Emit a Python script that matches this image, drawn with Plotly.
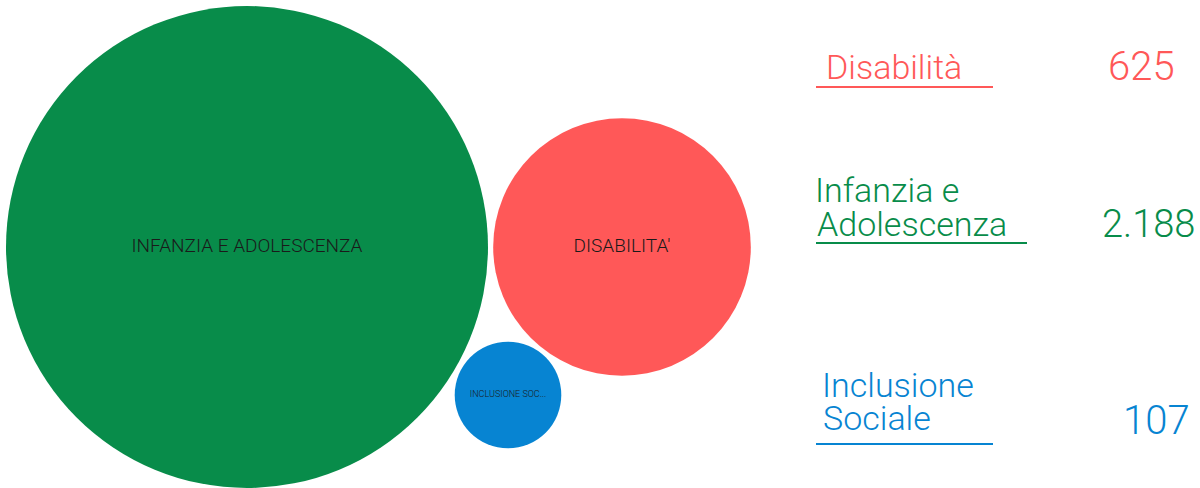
import plotly.graph_objects as go

# ---- data ----
categories = ["Infanzia e Adolescenza", "Disabilità", "Inclusione Sociale"]
values = [2188, 625, 107]
bubble_labels = ["INFANZIA E ADOLESCENZA", "DISABILITA'", "INCLUSIONE SOC..."]
side_label_lines = [["Infanzia e", "Adolescenza"], ["Disabilità"], ["Inclusione", "Sociale"]]
value_labels = ["2.188", "625", "107"]

# ---- layout / style (not data) ----
colors = ["#088C4A", "#FF5858", "#0784D2"]
centers_x = [247, 622, 508]
centers_y = [247, 247, 395]
bubble_font_sizes = [19, 19, 9]
max_diameter = 482
sizeref = 2 * max(values) / max_diameter ** 2

W, H = 1200, 488
FONT = "Roboto"

fig = go.Figure()
fig.add_trace(go.Scatter(
    x=centers_x, y=centers_y,
    mode="markers+text",
    text=bubble_labels,
    textposition="middle center",
    textfont=dict(family=FONT, size=bubble_font_sizes, color="#1a1a1a", weight=300),
    marker=dict(size=values, sizemode="area", sizeref=sizeref, color=colors,
                opacity=1, line=dict(width=0)),
    hoverinfo="skip",
    showlegend=False,
))

# side label positions (layout)
label_x = [[814, 816], [825], [821, 822]]
label_y = [[190, 224], [67], [385, 418]]
line_y = [243, 87, 444]
line_x1 = [1027, 993, 993]
num_x_right = [1196, 1176, 1191]
num_y = [224, 66, 420]
num_sizes = [38, 40, 40]

for i in range(len(categories)):
    for line_text, lx, ly in zip(side_label_lines[i], label_x[i], label_y[i]):
        fig.add_annotation(
            x=lx, y=ly, xref="x", yref="y",
            text=line_text, showarrow=False, xanchor="left", yanchor="middle",
            borderpad=0,
            font=dict(family=FONT, size=34, color=colors[i], weight=300),
        )
    fig.add_annotation(
        x=num_x_right[i], y=num_y[i], xref="x", yref="y",
        text=value_labels[i], showarrow=False, xanchor="right", yanchor="middle",
        borderpad=0,
        font=dict(family=FONT, size=num_sizes[i], color=colors[i], weight=300),
    )
    fig.add_shape(type="line", x0=816, x1=line_x1[i], y0=line_y[i], y1=line_y[i],
                  xref="x", yref="y", line=dict(color=colors[i], width=2))

fig.update_layout(
    width=W, height=H,
    margin=dict(l=0, r=0, t=0, b=0),
    paper_bgcolor="white", plot_bgcolor="white",
    xaxis=dict(range=[0, W], visible=False, fixedrange=True),
    yaxis=dict(range=[H, 0], visible=False, fixedrange=True),
)

fig.write_html(
    "out.html",
    config={"displayModeBar": False},
    post_script="document.body.style.margin='0';document.body.style.overflow='hidden';",
)
